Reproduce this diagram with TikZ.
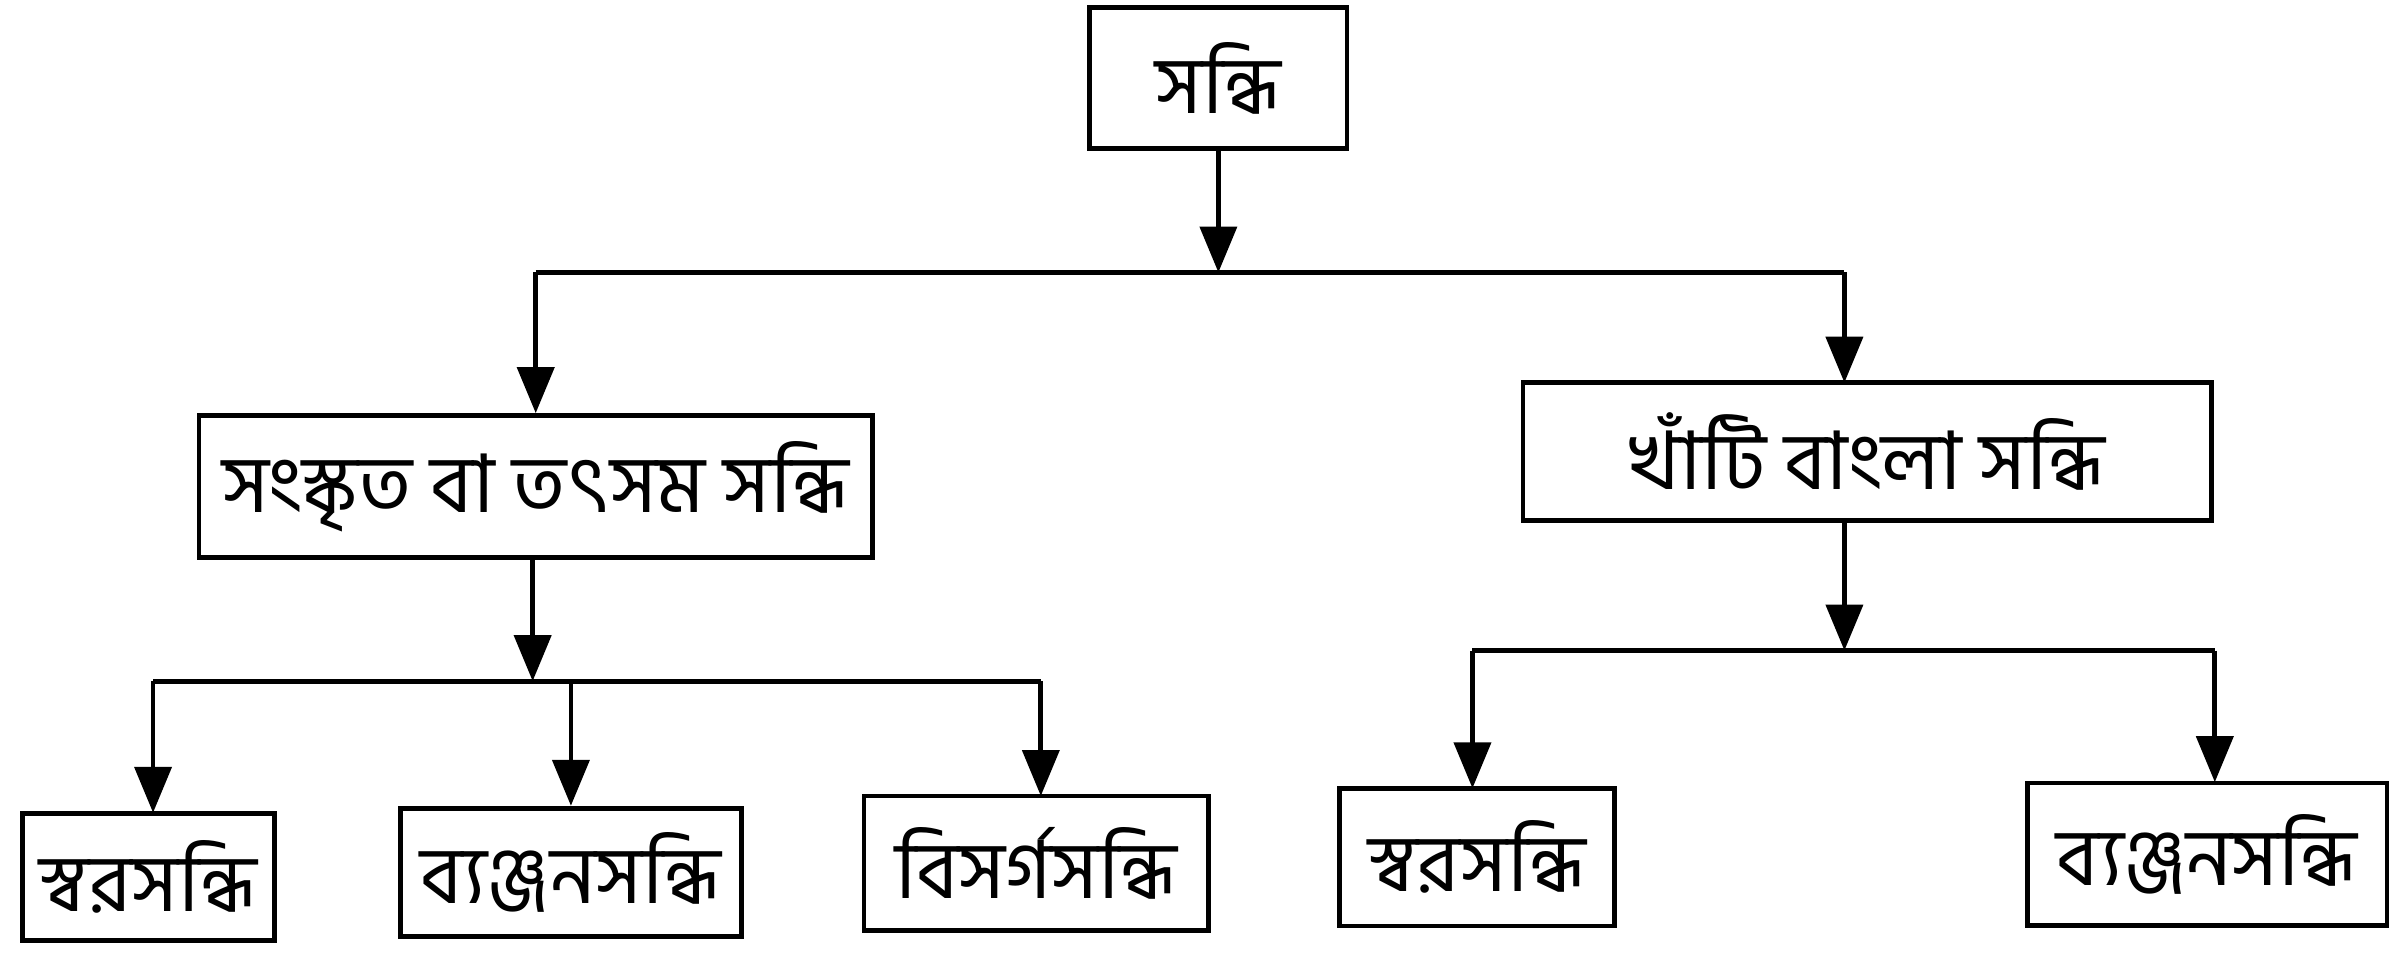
\documentclass[tikz,border=0pt]{standalone}
\usepackage{fontspec}
\newfontfamily\bangla[Script=Bengali]{Hind Siliguri}
\usetikzlibrary{arrows.meta,positioning}
\begin{document}
\begin{tikzpicture}[
        block/.style={rectangle, draw, line width=0.9pt, inner sep=2pt, font=\bangla\fontsize{15}{18}\selectfont},
        arr/.style={-{Triangle[length=0.3cm,width=0.24cm]}, line width=0.9pt},
        bar/.style={line width=0.9pt}
    ]
    \useasboundingbox (0,0) rectangle (15.68,-6.38);

    \node[block, minimum width=1.68cm, minimum height=0.92cm] (root) at (7.96,-0.51) {সন্ধি};
    \node[block, minimum width=4.4cm, minimum height=0.93cm] (sanskrit) at (3.5,-3.18) {সংস্কৃত বা তৎসম সন্ধি};
    \node[block, minimum width=4.5cm, minimum height=0.9cm] (bangla) at (12.2,-2.95) {খাঁটি বাংলা সন্ধি};

    \node[block, minimum width=1.65cm, minimum height=0.83cm] (swara1) at (0.97,-5.73) {স্বরসন্ধি};
    \node[block, minimum width=2.23cm, minimum height=0.84cm] (byanjan1) at (3.73,-5.70) {ব্যঞ্জনসন্ধি};
    \node[block, minimum width=2.25cm, minimum height=0.88cm] (bisarga) at (6.77,-5.64) {বিসর্গসন্ধি};
    \node[block, minimum width=1.8cm, minimum height=0.9cm] (swara2) at (9.65,-5.60) {স্বরসন্ধি};
    \node[block, minimum width=2.35cm, minimum height=0.93cm] (byanjan2) at (14.42,-5.58) {ব্যঞ্জনসন্ধি};

    % first level
    \coordinate (j0) at (7.96,-1.78);
    \draw[arr] (root.south) -- (j0);
    \draw[bar] (3.5,-1.78) -- (12.05,-1.78);
    \draw[arr] (3.5,-1.78) -- (sanskrit.north);
    \draw[arr] (12.05,-1.78) -- (12.05,-2.5);

    % left branch
    \coordinate (j1) at (3.48,-4.45);
    \draw[arr] (sanskrit.south -| j1) -- (j1);
    \draw[bar] (1.0,-4.45) -- (6.8,-4.45);
    \draw[arr] (1.0,-4.45) -- (1.0,-5.31);
    \draw[arr] (3.73,-4.45) -- (byanjan1.north);
    \draw[arr] (6.8,-4.45) -- (6.8,-5.2);

    % right branch
    \coordinate (j2) at (12.05,-4.25);
    \draw[arr] (bangla.south -| j2) -- (j2);
    \draw[bar] (9.62,-4.25) -- (14.47,-4.25);
    \draw[arr] (9.62,-4.25) -- (9.62,-5.15);
    \draw[arr] (14.47,-4.25) -- (14.47,-5.11);
\end{tikzpicture}
\end{document}
